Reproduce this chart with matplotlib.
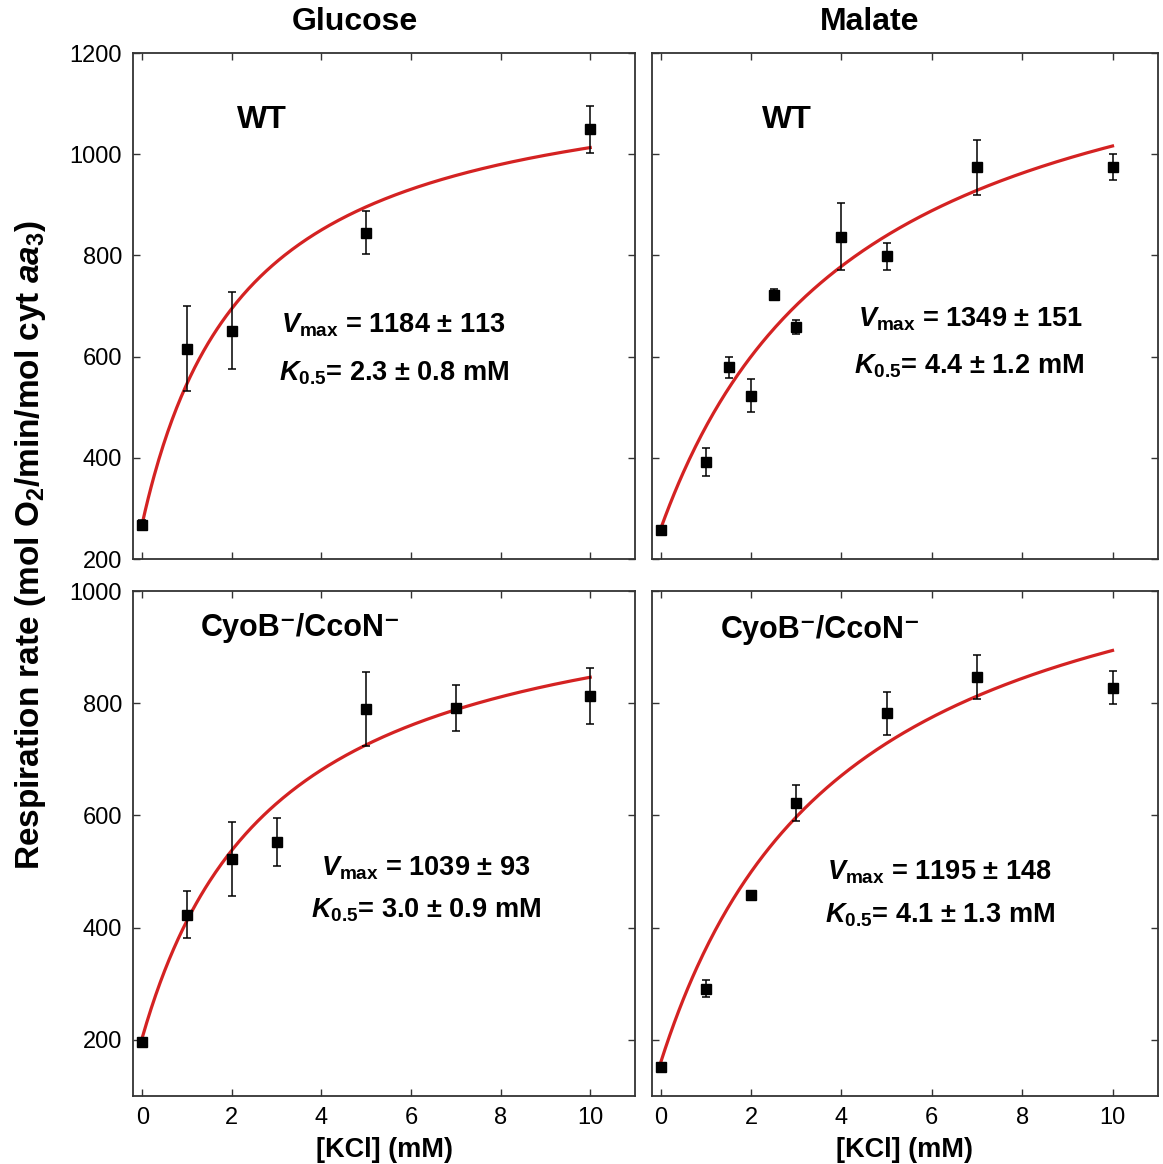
import numpy as np
import matplotlib
matplotlib.use('Agg')
import matplotlib.pyplot as plt

plt.rcParams['font.family'] = ['Liberation Sans', 'DejaVu Sans']
plt.rcParams['mathtext.fontset'] = 'custom'
plt.rcParams['mathtext.rm'] = 'Liberation Sans:bold'
plt.rcParams['mathtext.it'] = 'Liberation Sans:italic:bold'
plt.rcParams['mathtext.bf'] = 'Liberation Sans:bold'

# ---------------- data ----------------
glc_wt_x = [0, 1, 2, 5, 10]
glc_wt_y = [268, 616, 651, 845, 1049]
glc_wt_err = [10, 84, 76, 42, 47]

mal_wt_x = [0, 1, 1.5, 2, 2.5, 3, 4, 5, 7, 10]
mal_wt_y = [257, 392, 579, 523, 722, 659, 837, 798, 974, 975]
mal_wt_err = [0, 28, 21, 33, 11, 14, 66, 27, 54, 25]

glc_mut_x = [0, 1, 2, 3, 5, 7, 10]
glc_mut_y = [197, 423, 523, 553, 790, 792, 813]
glc_mut_err = [4, 42, 66, 43, 66, 41, 50]

mal_mut_x = [0, 1, 2, 3, 5, 7, 10]
mal_mut_y = [152, 291, 458, 622, 782, 847, 828]
mal_mut_err = [0, 15, 8, 32, 38, 39, 30]

# fitted hyperbola parameters (baseline, Vmax, K0.5)
fit_v0 = [270, 260, 204, 160]
fit_vmax = [1184, 1349, 1039, 1195]
fit_k = [2.3, 4.4, 3.0, 4.1]

column_titles = ['Glucose', 'Malate']
strain_labels = ['WT', 'WT', 'CyoB\u207b/CcoN\u207b', 'CyoB\u207b/CcoN\u207b']
vmax_text = [r'$V_{\mathrm{max}}$ = 1184 ± 113', r'$V_{\mathrm{max}}$ = 1349 ± 151',
             r'$V_{\mathrm{max}}$ = 1039 ± 93', r'$V_{\mathrm{max}}$ = 1195 ± 148']
k_text = [r'$K_{0.5}$= 2.3 ± 0.8 mM', r'$K_{0.5}$= 4.4 ± 1.2 mM',
          r'$K_{0.5}$= 3.0 ± 0.9 mM', r'$K_{0.5}$= 4.1 ± 1.3 mM']

datasets = [(glc_wt_x, glc_wt_y, glc_wt_err), (mal_wt_x, mal_wt_y, mal_wt_err),
            (glc_mut_x, glc_mut_y, glc_mut_err), (mal_mut_x, mal_mut_y, mal_mut_err)]

# ---------------- layout ----------------
W, H = 1163, 1164
fig = plt.figure(figsize=(W / 100, H / 100), dpi=100)
positions = [[133.3 / W, 1 - 559 / H, 501.7 / W, 506 / H],
             [651.7 / W, 1 - 559 / H, 506 / W, 506 / H],
             [133.3 / W, 1 - 1096 / H, 501.7 / W, 505 / H],
             [651.7 / W, 1 - 1096 / H, 506 / W, 505 / H]]
ylims = [(200, 1200), (200, 1200), (100, 1000), (100, 1000)]
yticks = [np.arange(200, 1201, 200), np.arange(200, 1201, 200),
          np.arange(200, 1001, 200), np.arange(200, 1001, 200)]

strain_pos = [(2.12, 1051), (2.23, 1051), (1.30, 920), (1.33, 916)]
vmax_pos = [(3.10, 648), (4.37, 659), (4.0, 493), (3.68, 485)]
k_pos = [(3.06, 552), (4.28, 566), (3.77, 418), (3.64, 409)]

for i in range(4):
    ax = fig.add_axes(positions[i])
    x, y, e = datasets[i]
    xs = np.linspace(0, 10, 300)
    ys = fit_v0[i] + (fit_vmax[i] - fit_v0[i]) * xs / (fit_k[i] + xs)
    ax.plot(xs, ys, color='#d42222', lw=2.3, zorder=2)
    ax.errorbar(x, y, yerr=e, fmt='s', color='black', ms=6.5, capsize=3,
                elinewidth=1.1, capthick=1.1, zorder=3)
    ax.set_xlim(-0.2, 11)
    ax.set_ylim(*ylims[i])
    ax.set_xticks([0, 2, 4, 6, 8, 10])
    ax.set_yticks(yticks[i])
    ax.tick_params(direction='in', length=5, width=1, top=True, right=True,
                   labelsize=17, pad=8, color='#333333')
    for s in ax.spines.values():
        s.set_color('#333333')
        s.set_linewidth(1.3)
    if i % 2 == 1:
        ax.tick_params(labelleft=False)
    if i < 2:
        ax.tick_params(labelbottom=False)
    ax.text(*strain_pos[i], strain_labels[i], fontsize=23 if i < 2 else 22,
            fontweight='bold', ha='left', va='baseline')
    ax.text(*vmax_pos[i], vmax_text[i], fontsize=19.5, fontweight='bold',
            ha='left', va='baseline')
    ax.text(*k_pos[i], k_text[i], fontsize=19.5, fontweight='bold',
            ha='left', va='baseline')

fig.text(355 / W, 1 - 22 / H, column_titles[0], fontsize=23, fontweight='bold',
         ha='center', va='center')
fig.text(870 / W, 1 - 22 / H, column_titles[1], fontsize=23, fontweight='bold',
         ha='center', va='center')
fig.text(384 / W, 1 - 1150 / H, '[KCl] (mM)', fontsize=19.5, fontweight='bold',
         ha='center', va='center')
fig.text(904 / W, 1 - 1150 / H, '[KCl] (mM)', fontsize=19.5, fontweight='bold',
         ha='center', va='center')
fig.text(31 / W, 1 - 545 / H, r'Respiration rate (mol O$_2$/min/mol cyt $aa_3$)',
         fontsize=24, fontweight='bold', rotation=90, ha='center', va='center')

fig.savefig('out.png', dpi=100)
